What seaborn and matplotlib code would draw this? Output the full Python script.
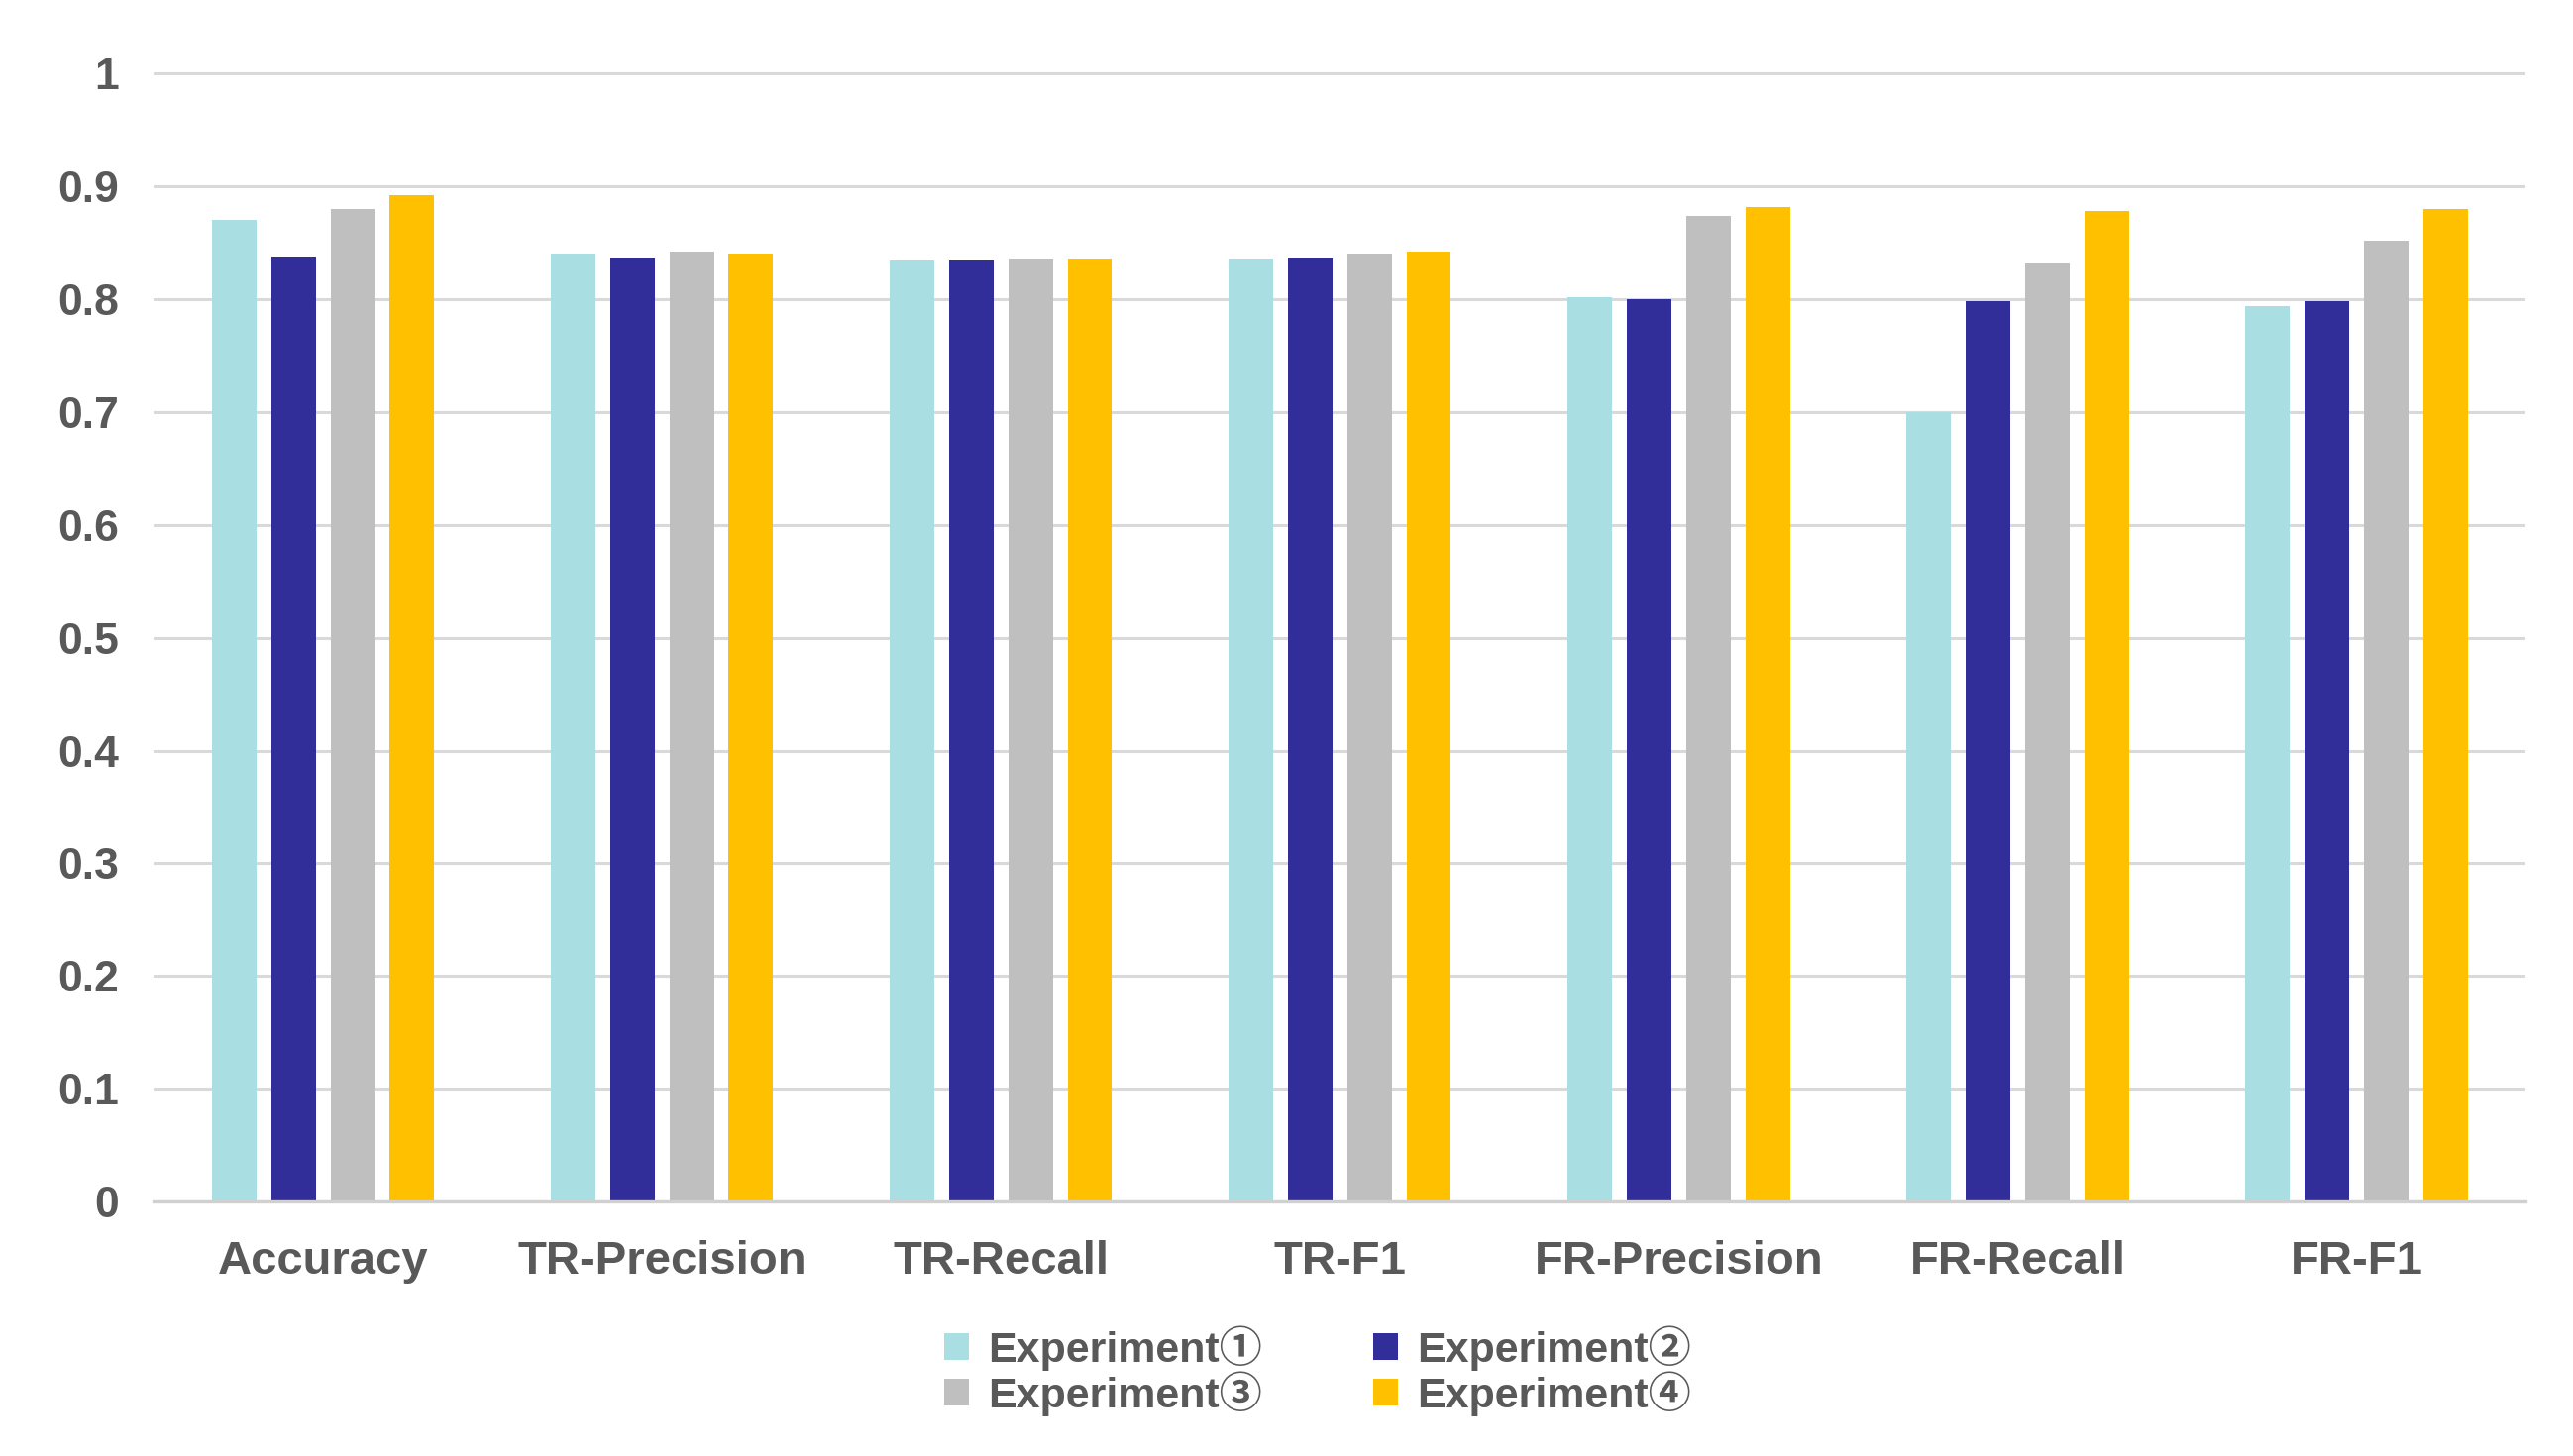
import numpy as np
import pandas as pd
import seaborn as sns
import matplotlib.pyplot as plt

metrics = ["Accuracy", "TR-Precision", "TR-Recall", "TR-F1", "FR-Precision", "FR-Recall", "FR-F1"]
experiments = ["Experiment①", "Experiment②", "Experiment③", "Experiment④"]

exp1 = [0.870, 0.840, 0.834, 0.836, 0.802, 0.700, 0.794]
exp2 = [0.838, 0.837, 0.834, 0.837, 0.800, 0.798, 0.798]
exp3 = [0.880, 0.842, 0.836, 0.840, 0.874, 0.832, 0.852]
exp4 = [0.892, 0.840, 0.836, 0.842, 0.882, 0.878, 0.880]

yticks = [0, 0.1, 0.2, 0.3, 0.4, 0.5, 0.6, 0.7, 0.8, 0.9, 1]
ytick_labels = ["0", "0.1", "0.2", "0.3", "0.4", "0.5", "0.6", "0.7", "0.8", "0.9", "1"]

colors = ["#A9DFE3", "#312E9A", "#BFBFBF", "#FFC000"]
text_color = "#595959"

df = pd.DataFrame({"metric": metrics, experiments[0]: exp1, experiments[1]: exp2,
                   experiments[2]: exp3, experiments[3]: exp4})
df = df.melt(id_vars=["metric"], var_name="experiment", value_name="value")

sns.set_style("white")
plt.rcParams["font.family"] = ["Liberation Sans", "Noto Sans CJK SC", "DejaVu Sans"]
plt.rcParams["font.weight"] = "bold"

fig = plt.figure(figsize=(25.97, 14.70), dpi=100)
ax = fig.add_axes([0.0597, 0.1748, 0.922, 0.777])

sns.barplot(data=df, x="metric", y="value", hue="experiment", palette=colors,
            width=0.7, gap=0.25, saturation=1, errorbar=None, linewidth=0, ax=ax)

ax.set_ylim(0, 1.003)
ax.set_xlim(-0.5, len(metrics) - 0.5)
ax.set_yticks(yticks)
ax.set_yticklabels(ytick_labels)
ax.set_xlabel("")
ax.set_ylabel("")
ax.yaxis.grid(True, color="#D9D9D9", linewidth=2.2)
ax.set_axisbelow(True)
for s in ["top", "right", "left"]:
    ax.spines[s].set_visible(False)
ax.spines["bottom"].set_color("#D0D0D0")
ax.spines["bottom"].set_linewidth(2.4)
ax.tick_params(axis="y", length=0, pad=25, labelsize=32, labelcolor=text_color)
ax.tick_params(axis="x", length=0, pad=28, labelsize=34, labelcolor=text_color)
for lab in ax.get_xticklabels() + ax.get_yticklabels():
    lab.set_fontweight("bold")

handles, labels = ax.get_legend_handles_labels()
ax.get_legend().remove()
order = [0, 2, 1, 3]
fig.legend([handles[i] for i in order], [labels[i] for i in order],
           loc="center", bbox_to_anchor=(0.512, 0.0585), ncol=2, frameon=False,
           fontsize=31, handlelength=0.58, handleheight=0.58, handletextpad=0.45,
           columnspacing=2.6, labelspacing=0.0, labelcolor=text_color)

fig.savefig("out.png", dpi=100)
